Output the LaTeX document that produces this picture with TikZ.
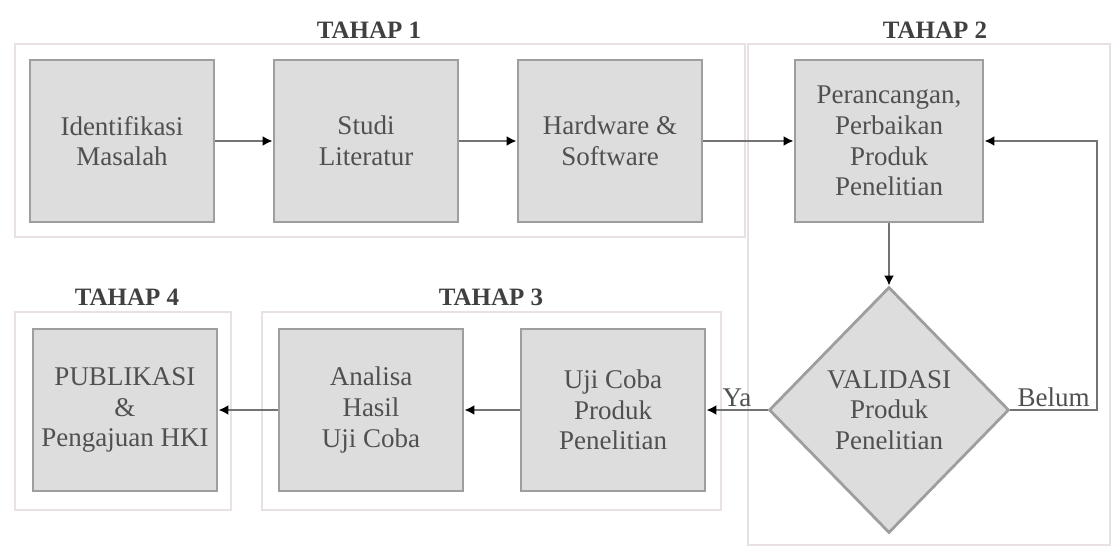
\documentclass[tikz,border=0pt]{standalone}
\usepackage{fontspec}
\setmainfont{Liberation Serif}
\usetikzlibrary{arrows.meta,shapes.geometric}
\definecolor{boxfill}{RGB}{221,221,221}
\definecolor{boxline}{RGB}{158,158,158}
\definecolor{grpline}{RGB}{232,224,226}
\definecolor{txtgray}{RGB}{80,80,80}
\definecolor{wire}{RGB}{115,115,115}

\begin{document}
\begin{tikzpicture}[x=0.5pt,y=-0.5pt,font=\fontsize{13.5}{15.3}\selectfont,
  stage/.style={draw=boxline,fill=boxfill,line width=1.4pt,minimum width=92pt,
    minimum height=81pt,align=center,text=txtgray,inner sep=2pt},
  check/.style={diamond,draw=boxline,fill=boxfill,line width=1.4pt,minimum width=120pt,
    minimum height=123pt,align=center,text=txtgray,inner sep=0pt},
  phase/.style={font=\fontsize{12.5}{14}\selectfont\bfseries,text=txtgray!80!black},
  group/.style={draw=grpline,line width=1pt},
  flow/.style={draw=wire,line width=1pt,-{Latex[color=black,length=5pt,width=5pt]}},
  tag/.style={text=txtgray,inner sep=1pt}]
  % page is 1114 x 550 px, y downwards
  \useasboundingbox (0,0) rectangle (1114,550);
  % stage frames
  \draw[group] (15,44) rectangle (745,237);
  \draw[group] (748,44) rectangle (1110,545);
  \draw[group] (262,312) rectangle (721,510);
  \draw[group] (15,312) rectangle (231,510);
  \node[phase] (ph1) at (369,30) {TAHAP 1};
  \node[phase] (ph2) at (935,30) {TAHAP 2};
  \node[phase] (ph3) at (491,297) {TAHAP 3};
  \node[phase] (ph4) at (127,297) {TAHAP 4};
  % top row
  \node[stage] (idm) at (122,141) {Identifikasi\\Masalah};
  \node[stage] (stl) at (366,141) {Studi\\Literatur};
  \node[stage] (hws) at (610,141) {Hardware \&\\Software};
  \node[stage,minimum width=94pt] (prc) at (889,141) {Perancangan,\\Perbaikan\\Produk\\Penelitian};
  % bottom row
  \node[check] (val) at (889,410) {VALIDASI\\Produk\\Penelitian};
  \node[stage] (ujc) at (613,410) {Uji Coba\\Produk\\Penelitian};
  \node[stage] (anl) at (371,410) {Analisa\\Hasil\\Uji Coba};
  \node[stage] (pub) at (125,410) {PUBLIKASI\\\&\\Pengajuan HKI};
  \coordinate (turn) at (1097,410);
  % connectors
  \draw[flow] (idm) -- (stl);
  \draw[flow] (stl) -- (hws);
  \draw[flow] (hws) -- (prc);
  \draw[flow] (prc) -- (val);
  \draw[flow] (val) -- node[tag,above] (ya) {Ya} (ujc);
  \draw[flow] (ujc) -- (anl);
  \draw[flow] (anl) -- (pub);
  \draw[flow] (val.east) -- node[tag,above] (blm) {Belum} (turn) |- (prc.east);
\end{tikzpicture}
\end{document}
